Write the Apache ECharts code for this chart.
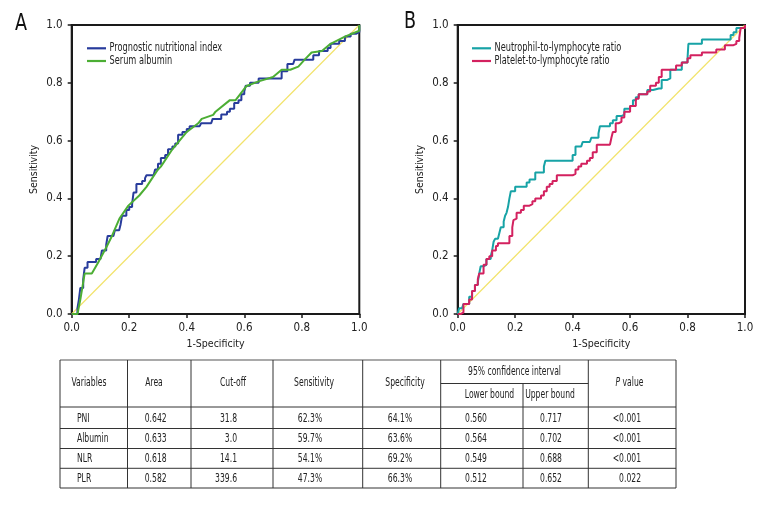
<!DOCTYPE html>
<html>
<head>
<meta charset="utf-8">
<script src="https://cdn.jsdelivr.net/npm/echarts@6/dist/echarts.min.js"></script>
<style>
html,body{margin:0;padding:0;background:#fff;}
#chart{width:780px;height:516px;}
</style>
</head>
<body>
<div id="chart"></div>
<script>
// ---- ROC data: [1-specificity, sensitivity] ----
const pniROC = [[0,0],[0.01,0],[0.02,0.02],[0.025,0.05],[0.03,0.09],[0.04,0.12],[0.045,0.16],[0.055,0.18],[0.085,0.18],[0.085,0.19],[0.1,0.19],[0.105,0.22],[0.12,0.22],[0.12,0.24],[0.125,0.27],[0.145,0.27],[0.15,0.29],[0.165,0.29],[0.17,0.31],[0.175,0.34],[0.19,0.36],[0.2,0.37],[0.21,0.38],[0.215,0.42],[0.225,0.45],[0.245,0.46],[0.255,0.47],[0.26,0.48],[0.285,0.48],[0.29,0.5],[0.3,0.52],[0.31,0.54],[0.325,0.55],[0.335,0.57],[0.35,0.58],[0.36,0.59],[0.37,0.62],[0.385,0.63],[0.4,0.64],[0.41,0.65],[0.445,0.65],[0.45,0.66],[0.485,0.66],[0.49,0.675],[0.52,0.675],[0.52,0.69],[0.54,0.70],[0.55,0.71],[0.565,0.73],[0.58,0.74],[0.59,0.76],[0.6,0.77],[0.605,0.79],[0.62,0.80],[0.65,0.80],[0.65,0.815],[0.73,0.815],[0.73,0.84],[0.75,0.845],[0.75,0.865],[0.77,0.87],[0.775,0.88],[0.84,0.88],[0.84,0.895],[0.86,0.9],[0.86,0.91],[0.89,0.92],[0.9,0.935],[0.93,0.945],[0.95,0.96],[0.97,0.97],[0.99,0.975],[1,0.99],[1,1]];
const albuminROC = [[0,0],[0.02,0],[0.03,0.05],[0.045,0.14],[0.07,0.14],[0.093,0.18],[0.12,0.23],[0.14,0.27],[0.166,0.33],[0.197,0.375],[0.235,0.41],[0.26,0.44],[0.28,0.47],[0.3,0.5],[0.31,0.51],[0.35,0.57],[0.4,0.63],[0.44,0.66],[0.452,0.675],[0.492,0.689],[0.5,0.7],[0.55,0.74],[0.57,0.74],[0.608,0.789],[0.65,0.805],[0.7,0.82],[0.73,0.845],[0.76,0.845],[0.788,0.856],[0.81,0.88],[0.834,0.905],[0.87,0.91],[0.9,0.935],[0.95,0.96],[1,0.98],[1,1]];
const nlrROC = [[0,0],[0.005,0.02],[0.015,0.025],[0.02,0.035],[0.04,0.06],[0.05,0.08],[0.06,0.1],[0.07,0.11],[0.075,0.14],[0.08,0.165],[0.09,0.17],[0.1,0.19],[0.115,0.2],[0.12,0.22],[0.125,0.25],[0.13,0.26],[0.14,0.265],[0.145,0.28],[0.15,0.3],[0.16,0.32],[0.165,0.34],[0.17,0.35],[0.175,0.37],[0.18,0.4],[0.185,0.425],[0.2,0.43],[0.2,0.44],[0.23,0.44],[0.24,0.455],[0.25,0.465],[0.27,0.465],[0.27,0.49],[0.29,0.49],[0.3,0.51],[0.305,0.53],[0.39,0.53],[0.4,0.55],[0.41,0.58],[0.43,0.585],[0.435,0.595],[0.46,0.595],[0.465,0.61],[0.49,0.61],[0.49,0.625],[0.495,0.65],[0.52,0.65],[0.53,0.66],[0.54,0.67],[0.553,0.685],[0.57,0.69],[0.58,0.71],[0.6,0.72],[0.61,0.74],[0.62,0.75],[0.63,0.76],[0.66,0.775],[0.68,0.78],[0.7,0.78],[0.71,0.81],[0.73,0.815],[0.74,0.845],[0.77,0.845],[0.78,0.87],[0.8,0.885],[0.803,0.935],[0.84,0.935],[0.85,0.95],[0.94,0.95],[0.95,0.965],[0.96,0.975],[0.97,0.99],[0.99,0.99],[1,1]];
const plrROC = [[0,0],[0.01,0.005],[0.02,0.035],[0.04,0.05],[0.05,0.08],[0.06,0.1],[0.07,0.12],[0.075,0.14],[0.09,0.17],[0.1,0.19],[0.11,0.2],[0.12,0.22],[0.133,0.235],[0.14,0.245],[0.17,0.245],[0.18,0.27],[0.19,0.3],[0.194,0.325],[0.2,0.33],[0.205,0.35],[0.22,0.36],[0.23,0.375],[0.25,0.38],[0.26,0.39],[0.27,0.4],[0.29,0.41],[0.3,0.425],[0.31,0.44],[0.32,0.45],[0.33,0.46],[0.345,0.48],[0.37,0.48],[0.4,0.485],[0.41,0.5],[0.42,0.51],[0.43,0.52],[0.45,0.53],[0.46,0.54],[0.47,0.56],[0.484,0.586],[0.53,0.586],[0.535,0.61],[0.54,0.63],[0.55,0.66],[0.56,0.665],[0.57,0.68],[0.58,0.7],[0.6,0.72],[0.62,0.745],[0.63,0.76],[0.66,0.77],[0.67,0.79],[0.69,0.8],[0.7,0.82],[0.71,0.845],[0.76,0.845],[0.76,0.86],[0.78,0.87],[0.8,0.885],[0.81,0.895],[0.84,0.895],[0.85,0.905],[0.89,0.905],[0.9,0.915],[0.93,0.93],[0.96,0.935],[0.97,0.945],[0.98,0.955],[0.985,0.99],[1,1]];
const referenceLine = [[0,0],[1,1]];

const seriesNamesA = ["Prognostic nutritional index","Serum albumin"];
const seriesNamesB = ["Neutrophil-to-lymphocyte ratio","Platelet-to-lymphocyte ratio"];
const colorsA = ['#283c9c','#4cae34'];
const colorsB = ['#17a3a6','#d3215f'];

// ---- table ----
const tableHeaders = ["Variables","Area","Cut-off","Sensitivity","Specificity"];
const ciHeader = "95% confidence interval";
const ciSubHeaders = ["Lower bound","Upper bound"];
const pHeader = "{i|P} value";
const variables = ["PNI","Albumin","NLR","PLR"];
const areas = ["0.642","0.633","0.618","0.582"];
const cutoffs = ["31.8","3.0","14.1","339.6"];
const sensitivities = ["62.3%","59.7%","54.1%","47.3%"];
const specificities = ["64.1%","63.6%","69.2%","66.3%"];
const lowerBounds = ["0.560","0.564","0.549","0.512"];
const upperBounds = ["0.717","0.702","0.688","0.652"];
const pValues = ["<0.001","<0.001","<0.001","0.022"];

const FONT = "'DejaVu Sans Condensed','Liberation Sans Narrow',sans-serif";
const TXT = '#222';

function xAx(gi){
  return {type:'value', gridIndex:gi, min:0, max:1, interval:0.2,
    name:'1-Specificity', nameLocation:'middle', nameGap:24,
    nameTextStyle:{fontFamily:FONT, fontSize:10.5, color:TXT},
    axisLine:{show:true, lineStyle:{color:'#1a1a1a', width:2}},
    axisTick:{show:true, inside:false, length:4, lineStyle:{color:'#1a1a1a', width:1.5}},
    axisLabel:{margin:8, fontFamily:FONT, fontSize:11.5, color:TXT, formatter:v=>v.toFixed(1)},
    splitLine:{show:false}};
}
function yAx(gi){
  return {type:'value', gridIndex:gi, min:0, max:1, interval:0.2,
    name:'Sensitivity', nameLocation:'middle', nameGap:32, nameRotate:90,
    nameTextStyle:{fontFamily:FONT, fontSize:10.5, color:TXT},
    axisLine:{show:true, lineStyle:{color:'#1a1a1a', width:2}},
    axisTick:{show:true, inside:false, length:4, lineStyle:{color:'#1a1a1a', width:1.5}},
    axisLabel:{margin:9, fontFamily:FONT, fontSize:11.5, color:TXT, formatter:v=>v.toFixed(1)},
    splitLine:{show:false}};
}

const g = [];
function hl(y,x1,x2,c,w){g.push({type:'line',shape:{x1:x1,y1:y,x2:x2,y2:y},style:{stroke:c||'#333',lineWidth:w||1},z:10});}
function vl(x,y1,y2){g.push({type:'line',shape:{x1:x,y1:y1,x2:x,y2:y2},style:{stroke:'#333',lineWidth:1},z:10});}
function tx(t,x,y,al,fs,sx){
  fs = fs||11.5; sx = sx||0.74;
  g.push({type:'text',x:x,y:y,scaleX:sx,z:11,style:{text:t,fontFamily:FONT,fontSize:fs,fill:TXT,align:al||'center',verticalAlign:'middle',
    rich:{i:{fontStyle:'italic',fontFamily:FONT,fontSize:fs,fill:TXT}}}});
}
// table grid lines
hl(360,60,676,'#8c8c8c',1.6);
hl(383.5,440.7,588.3);
[407,428.5,448.5,468.3,488].forEach(y=>hl(y,60,676));
[60,127.5,191,273,362.7,440.7,588.3,676].forEach(x=>vl(x,360,488));
vl(523,383.5,488);
// table texts
const headerX = [89,154,233,314,405];
tableHeaders.forEach((h,i)=>tx(h,headerX[i],383.5));
tx(ciHeader,514.5,372);
tx(ciSubHeaders[0],489.5,395);
tx(ciSubHeaders[1],550,395);
tx(pHeader,629.5,383.5);
const rowCenters = [419,439,459,479];
variables.forEach((v,r)=>{
  const y=rowCenters[r];
  tx(v,77,y,'left');
  tx(areas[r],155.7,y);
  tx(cutoffs[r],237,y,'right');
  tx(sensitivities[r],310,y);
  tx(specificities[r],400,y);
  tx(lowerBounds[r],476,y);
  tx(upperBounds[r],551,y);
  tx(pValues[r],641,y,'right');
});
// legends (line sample + condensed label)
function legendItems(names, colors, x0, y0){
  names.forEach((n,i)=>{
    const y = y0 + i*12.7;
    g.push({type:'line',shape:{x1:x0,y1:y,x2:x0+19,y2:y},style:{stroke:colors[i],lineWidth:2.2},z:12});
    g.push({type:'text',x:x0+22.5,y:y,scaleX:0.76,z:12,style:{text:n,fontFamily:FONT,fontSize:12,fill:TXT,align:'left',verticalAlign:'middle'}});
  });
}
legendItems(seriesNamesA, colorsA, 87, 48.3);
legendItems(seriesNamesB, colorsB, 472, 48.3);
// panel letters
g.push({type:'text',x:15,y:24,scaleX:0.85,style:{text:'A',fontFamily:FONT,fontSize:23,fill:'#111',verticalAlign:'middle'}});
g.push({type:'text',x:404,y:22,scaleX:0.85,style:{text:'B',fontFamily:FONT,fontSize:23,fill:'#111',verticalAlign:'middle'}});

const chart = echarts.init(document.getElementById('chart'),null,{renderer:'canvas',width:780,height:516});
chart.setOption({
  animation:false,
  backgroundColor:'#fff',
  grid:[
    {left:71.7, top:25, width:287.6, height:289, show:true, borderColor:'#1a1a1a', borderWidth:2, backgroundColor:'transparent'},
    {left:457.7, top:25, width:287.3, height:289, show:true, borderColor:'#1a1a1a', borderWidth:2, backgroundColor:'transparent'}
  ],
  xAxis:[xAx(0),xAx(1)],
  yAxis:[yAx(0),yAx(1)],
  series:[
    {type:'line', name:'refA', xAxisIndex:0, yAxisIndex:0, data:referenceLine, showSymbol:false, silent:true, lineStyle:{color:'#f2e36b', width:1.2}},
    {type:'line', name:seriesNamesA[0], xAxisIndex:0, yAxisIndex:0, data:pniROC, step:'end', showSymbol:false, color:colorsA[0], lineStyle:{color:colorsA[0], width:2}},
    {type:'line', name:seriesNamesA[1], xAxisIndex:0, yAxisIndex:0, data:albuminROC, showSymbol:false, color:colorsA[1], lineStyle:{color:colorsA[1], width:2}},
    {type:'line', name:'refB', xAxisIndex:1, yAxisIndex:1, data:referenceLine, showSymbol:false, silent:true, lineStyle:{color:'#f2e36b', width:1.2}},
    {type:'line', name:seriesNamesB[0], xAxisIndex:1, yAxisIndex:1, data:nlrROC, step:'end', showSymbol:false, color:colorsB[0], lineStyle:{color:colorsB[0], width:2}},
    {type:'line', name:seriesNamesB[1], xAxisIndex:1, yAxisIndex:1, data:plrROC, step:'end', showSymbol:false, color:colorsB[1], lineStyle:{color:colorsB[1], width:2}}
  ],
  graphic:g
});
</script>
</body>
</html>
